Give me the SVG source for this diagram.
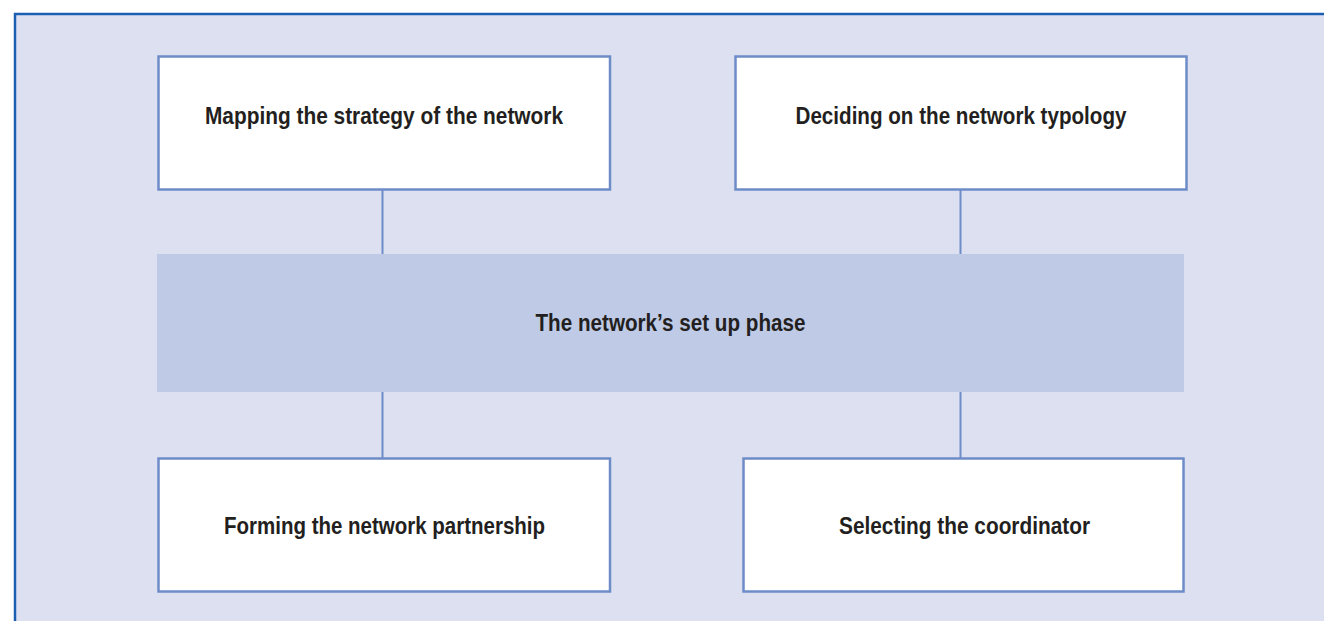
<svg xmlns="http://www.w3.org/2000/svg" width="1324" height="621" viewBox="0 0 1324 621">
<style>
.box{fill:#ffffff;stroke:#6d8cc8;stroke-width:2.5}
.lbl{font-family:"Liberation Sans Narrow","Liberation Sans",Arial,sans-serif;font-weight:bold;font-size:23.5px;fill:#231f20;text-anchor:middle}
.con{stroke:#6d8cc8;stroke-width:2;fill:none}
</style>
<rect x="0" y="0" width="1324" height="621" fill="#ffffff"/>
<rect x="15" y="14" width="1320" height="620" fill="#dde0f1" stroke="#1c5fb2" stroke-width="2.5"/>
<g id="connectors">
<line class="con" x1="382.5" y1="189" x2="382.5" y2="254"/>
<line class="con" x1="960.5" y1="189" x2="960.5" y2="254"/>
<line class="con" x1="382.5" y1="391" x2="382.5" y2="458"/>
<line class="con" x1="960.5" y1="391" x2="960.5" y2="458"/>
</g>
<g id="phase">
<rect x="157" y="254" width="1027" height="138" fill="#bfcae6"/>
<text class="lbl" x="670.5" y="330.5" textLength="270" lengthAdjust="spacingAndGlyphs">The network’s set up phase</text>
</g>
<g id="mapping">
<rect class="box" x="158.5" y="56.5" width="451.5" height="133"/>
<text class="lbl" x="384" y="124" textLength="358" lengthAdjust="spacingAndGlyphs">Mapping the strategy of the network</text>
</g>
<g id="deciding">
<rect class="box" x="735.5" y="56.5" width="451" height="133"/>
<text class="lbl" x="961" y="124" textLength="331" lengthAdjust="spacingAndGlyphs">Deciding on the network typology</text>
</g>
<g id="forming">
<rect class="box" x="158.5" y="458.5" width="451.5" height="133"/>
<text class="lbl" x="384.5" y="534" textLength="321" lengthAdjust="spacingAndGlyphs">Forming the network partnership</text>
</g>
<g id="selecting">
<rect class="box" x="743.5" y="458.5" width="440" height="133"/>
<text class="lbl" x="964.5" y="534" textLength="251" lengthAdjust="spacingAndGlyphs">Selecting the coordinator</text>
</g>
</svg>
